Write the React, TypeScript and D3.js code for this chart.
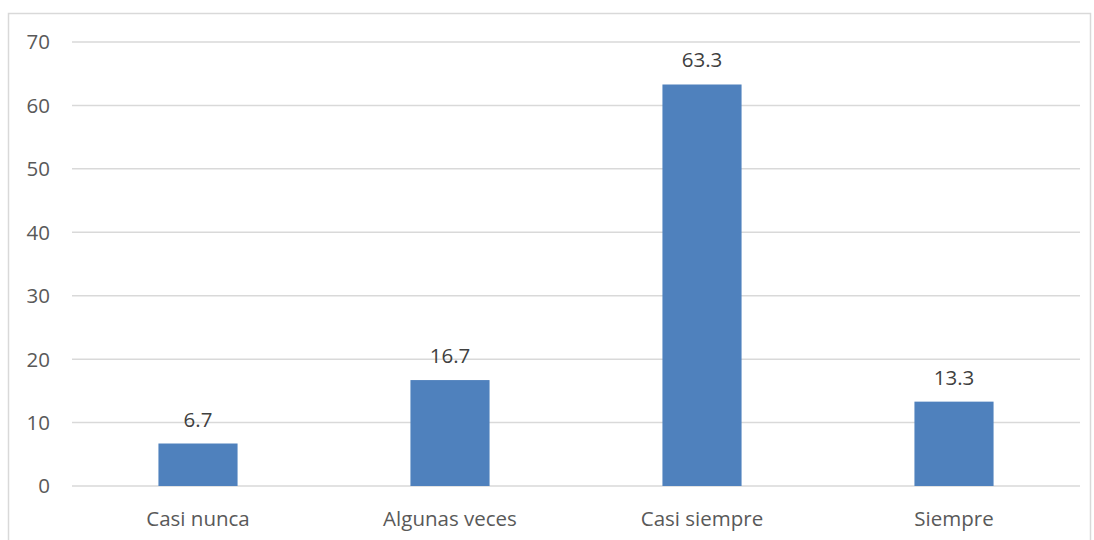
import React from "react";
import * as d3 from "d3";

const categories = ["Casi nunca", "Algunas veces", "Casi siempre", "Siempre"];
const values = [6.7, 16.7, 63.3, 13.3];
const yTicks = [0, 10, 20, 30, 40, 50, 60, 70];

export default function App() {
  const W = 1094, H = 540;
  const left = 72, right = 1080, top = 42, bottom = 486;
  const x = d3.scaleBand<string>().domain(categories).range([left, right]).padding(0);
  const y = d3.scaleLinear().domain([0, 70]).range([bottom, top]);
  const barW = x.bandwidth() * 0.314;
  const font = "'Open Sans', 'Noto Sans', sans-serif";
  const fs = 20.5;
  return (
    <svg width={W} height={H} style={{ position: "absolute", left: 0, top: 0 }}>
      <rect x={0} y={0} width={W} height={H} fill="#fff" />
      <rect x={8.5} y={13.5} width={1082} height={540} fill="none" stroke="#d9d9d9" strokeWidth={1.5} />
      {yTicks.map((t) => (
        <g key={t}>
          <line x1={left} x2={right} y1={y(t)} y2={y(t)} stroke="#d9d9d9" strokeWidth={1.5} />
          <text x={50} y={y(t)} dy="0.36em" textAnchor="end" fontFamily={font} fontSize={fs} fill="#595959">
            {t}
          </text>
        </g>
      ))}
      {categories.map((c, i) => {
        const cx = (x(c) as number) + x.bandwidth() / 2;
        return (
          <g key={c}>
            <rect x={cx - barW / 2} y={y(values[i])} width={barW} height={bottom - y(values[i])} fill="#4f81bd" />
            <text x={cx} y={y(values[i]) - 17} textAnchor="middle" fontFamily={font} fontSize={fs} fill="#404040">
              {values[i].toFixed(1)}
            </text>
            <text x={cx} y={526} textAnchor="middle" fontFamily={font} fontSize={fs} fill="#595959">
              {c}
            </text>
          </g>
        );
      })}
    </svg>
  );
}
